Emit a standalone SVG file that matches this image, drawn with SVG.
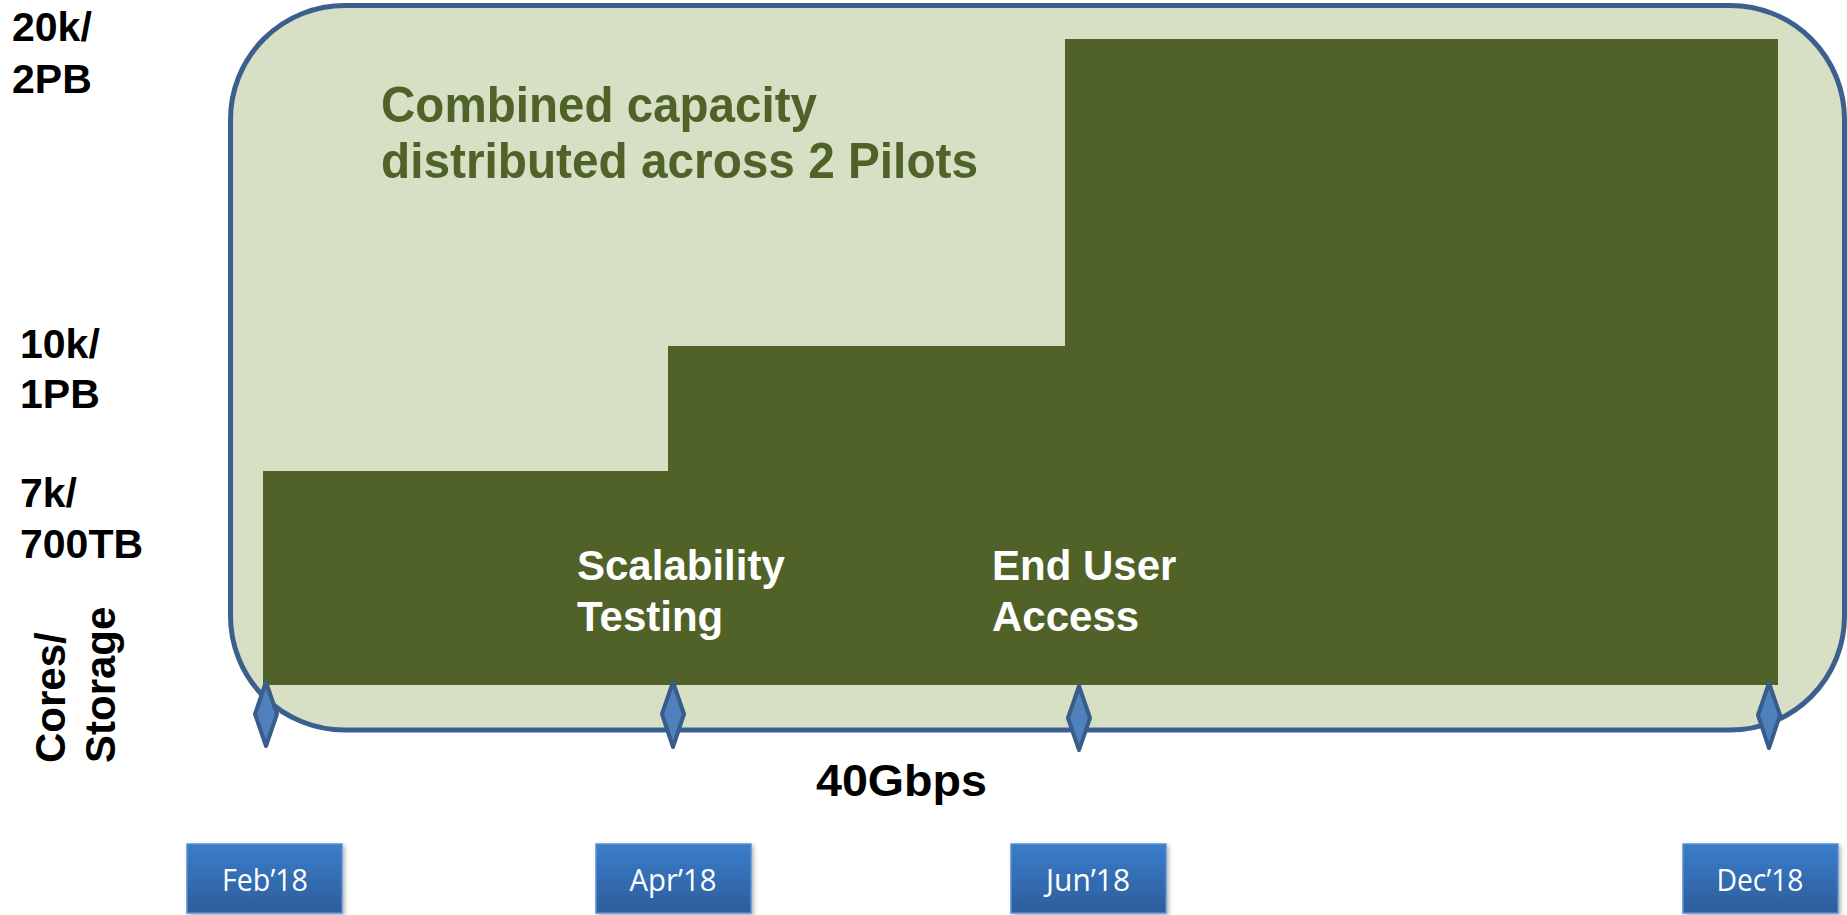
<svg xmlns="http://www.w3.org/2000/svg" width="1847" height="915" viewBox="0 0 1847 915">
  <defs>
    <linearGradient id="boxGrad" x1="0" y1="0" x2="0" y2="1">
      <stop offset="0" stop-color="#3b7dcb"/>
      <stop offset="1" stop-color="#2c5d9c"/>
    </linearGradient>
    <filter id="shadow" x="-10%" y="-10%" width="130%" height="130%">
      <feDropShadow dx="2" dy="2" stdDeviation="2" flood-color="#000" flood-opacity="0.3"/>
    </filter>
  </defs>
  <style>
    .axis { font-family: "Liberation Sans", Arial, sans-serif; font-weight: bold; font-size: 41px; fill: #000; }
    .title { font-family: "Liberation Sans", Arial, sans-serif; font-weight: bold; font-size: 50px; fill: #4f6228; }
    .milestone { font-family: "Liberation Sans", Arial, sans-serif; font-weight: bold; font-size: 42px; fill: #fff; }
    .date { font-family: "Open Sans", "Liberation Sans", sans-serif; font-size: 31px; fill: #fff; text-anchor: middle; }
    .datebox { fill: url(#boxGrad); stroke: #5b8fd0; stroke-width: 1.5; filter: url(#shadow); }
    .diamond { fill: #4f81bd; stroke: #385d8a; stroke-width: 4; stroke-linejoin: round; }
  </style>

  <g id="frame">
    <rect x="230.5" y="5.5" width="1614" height="724.5" rx="114" ry="114" fill="#d7dfc4" stroke="#3b6090" stroke-width="5"/>
  </g>

  <g id="capacity-bars">
    <path d="M263,471 H668 V346 H1065 V39 H1778 V685 H263 Z" fill="#506228"/>
  </g>

  <g id="title">
    <text class="title" x="381" y="122" textLength="436" lengthAdjust="spacingAndGlyphs">Combined capacity</text>
    <text class="title" x="381" y="178" textLength="597" lengthAdjust="spacingAndGlyphs">distributed across 2 Pilots</text>
  </g>

  <g id="milestone-scalability">
    <text class="milestone" x="577" y="580">Scalability</text>
    <text class="milestone" x="577" y="631">Testing</text>
  </g>

  <g id="milestone-enduser">
    <text class="milestone" x="992" y="580">End User</text>
    <text class="milestone" x="992" y="631">Access</text>
  </g>

  <g id="y-labels">
    <text class="axis" x="12" y="41">20k/</text>
    <text class="axis" x="12" y="93">2PB</text>
    <text class="axis" x="20" y="358">10k/</text>
    <text class="axis" x="20" y="408">1PB</text>
    <text class="axis" x="20" y="507">7k/</text>
    <text class="axis" x="20" y="558">700TB</text>
    <g transform="translate(65,763) rotate(-90)">
      <text class="axis" x="0" y="0" style="font-size:42px">Cores/</text>
      <text class="axis" x="0" y="50" style="font-size:42px">Storage</text>
    </g>
  </g>

  <g id="bandwidth">
    <text class="axis" x="816" y="796" style="font-size:44px" textLength="171" lengthAdjust="spacingAndGlyphs">40Gbps</text>
  </g>

  <g id="connectors">
    <path class="diamond" d="M266,682 L277,714 L266,746 L255,714 Z"/>
    <path class="diamond" d="M673,682 L684,714 L673,747 L662,714 Z"/>
    <path class="diamond" d="M1079,686 L1090,718 L1079,750 L1068,718 Z"/>
    <path class="diamond" d="M1769,683 L1780,715 L1769,748 L1758,715 Z"/>
  </g>

  <g id="date-feb">
    <rect class="datebox" x="187" y="844" width="155" height="69"/>
    <text class="date" x="265" y="891" textLength="86" lengthAdjust="spacingAndGlyphs">Feb’18</text>
  </g>
  <g id="date-apr">
    <rect class="datebox" x="596" y="844" width="155" height="69"/>
    <text class="date" x="673" y="891" textLength="87" lengthAdjust="spacingAndGlyphs">Apr’18</text>
  </g>
  <g id="date-jun">
    <rect class="datebox" x="1011" y="844" width="155" height="69"/>
    <text class="date" x="1088" y="891" textLength="84" lengthAdjust="spacingAndGlyphs">Jun’18</text>
  </g>
  <g id="date-dec">
    <rect class="datebox" x="1683" y="844" width="155" height="69"/>
    <text class="date" x="1760" y="891" textLength="87" lengthAdjust="spacingAndGlyphs">Dec’18</text>
  </g>
</svg>
